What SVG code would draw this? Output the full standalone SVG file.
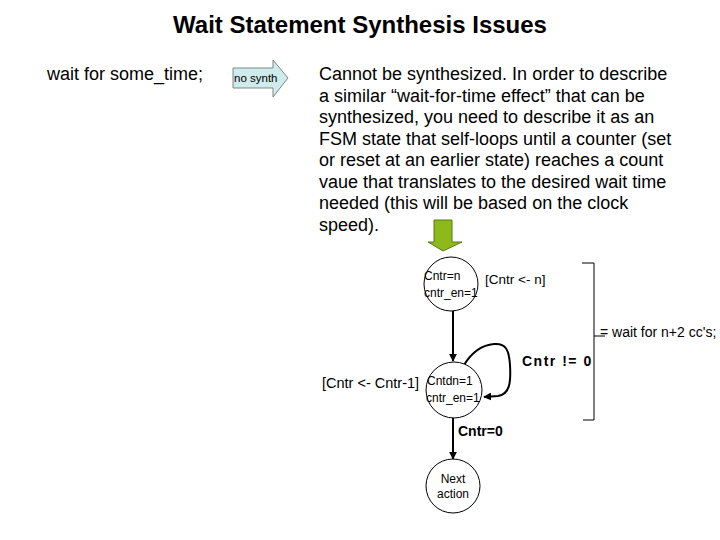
<svg xmlns="http://www.w3.org/2000/svg" width="720" height="540" viewBox="0 0 720 540">
<style>
text{font-family:"Liberation Sans",Arial,sans-serif;fill:#000}
.st{fill:#fff;stroke:#000;stroke-width:1}
.ln{fill:none;stroke:#000;stroke-width:2}
.s{font-size:12px}
.b{font-weight:bold;font-size:14px}
.p{font-size:18px}
</style>
<defs>
<marker id="ah" viewBox="0 0 10 10" refX="9" refY="5" markerWidth="4" markerHeight="4" orient="auto">
<path d="M0,0L10,5L0,10z" fill="#000"/>
</marker>
</defs>
<rect width="720" height="540" fill="#fff"/>
<text x="360" y="33" font-size="24" font-weight="bold" text-anchor="middle">Wait Statement Synthesis Issues</text>
<text x="47" y="80" font-size="18">wait for some_time;</text>
<g id="nosynth">
<path d="M233,68H273V60L288,78L273,97V88H233Z" fill="#CFEBEB" stroke="#7a8a8a" stroke-width="1"/>
<text x="234" y="82" font-size="11.5">no synth</text>
</g>
<g id="para">
<text x="319" y="80" class="p">Cannot be synthesized. In order to describe</text>
<text x="319" y="101.5" class="p">a similar “wait-for-time effect” that can be</text>
<text x="319" y="123" class="p">synthesized, you need to describe it as an</text>
<text x="319" y="144.5" class="p">FSM state that self-loops until a counter (set</text>
<text x="319" y="166" class="p">or reset at an earlier state) reaches a count</text>
<text x="319" y="187.5" class="p">vaue that translates to the desired wait time</text>
<text x="319" y="209" class="p">needed (this will be based on the clock</text>
<text x="319" y="230.5" class="p">speed).</text>
</g>
<g id="green-arrow">
<path d="M434,220H452V242H462L443,251L428,242H434Z" fill="#8DBA1A" stroke="#5a7a10" stroke-width="1"/>
</g>
<g id="connectors">
<line class="ln" x1="453" y1="311" x2="453" y2="361" marker-end="url(#ah)"/>
<path class="ln" d="M464,365C472,352 482,345 494,344C506,343 509,350 510,365C511,382 510,394 498,396L484,397" marker-end="url(#ah)"/>
<line class="ln" x1="453" y1="418" x2="453" y2="459" marker-end="url(#ah)"/>
</g>
<g id="s1">
<circle class="st" cx="451" cy="284" r="27"/>
<text x="424" y="280" class="s">Cntr=n</text>
<text x="424" y="297" class="s">cntr_en=1</text>
</g>
<text x="485" y="284" font-size="13.5">[Cntr &lt;- n]</text>
<g id="s2">
<circle class="st" cx="454" cy="390" r="28"/>
<text x="427" y="385" class="s">Cntdn=1</text>
<text x="426" y="402" class="s">cntr_en=1</text>
</g>
<text x="322" y="388" font-size="14.5">[Cntr &lt;- Cntr-1]</text>
<text x="522" y="366" class="b" letter-spacing="1.5">Cntr != 0</text>
<text x="458" y="436" class="b">Cntr=0</text>
<g id="s3">
<circle class="st" cx="453" cy="486" r="27"/>
<text x="453" y="483" class="s" text-anchor="middle">Next</text>
<text x="453" y="498" class="s" text-anchor="middle">action</text>
</g>
<g id="brace">
<path d="M582,263H594V336M594,336H605M594,336V420H583" fill="none" stroke="#000" stroke-width="1"/>
</g>
<text x="600" y="337" font-size="14">= wait for n+2 cc's;</text>
</svg>
